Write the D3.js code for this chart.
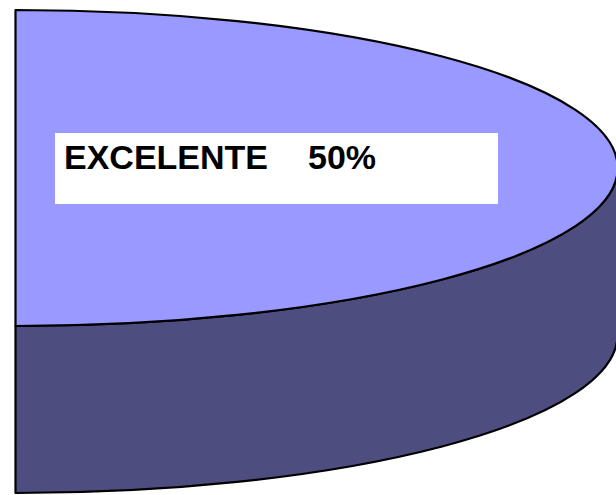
<!DOCTYPE html>
<html>
<head>
<meta charset="utf-8">
<script src="https://cdn.jsdelivr.net/npm/d3@7"></script>
<style>
html,body{margin:0;padding:0;background:#fff;overflow:hidden;}
svg{display:block;}
</style>
</head>
<body>
<svg id="chart" width="616" height="495"></svg>
<script>
const categories = ["EXCELENTE"];
const values = [50];
const percentLabels = ["50%"];
const total = 100;

const svg = d3.select("#chart");
const cx = 15.5, cy = 168, rx = 602, ry = 158, depth = 167;

// pie layout: the slice covers 50% of the full circle
const pie = d3.pie().sort(null).value(d => d).startAngle(0)
  .endAngle(2 * Math.PI * d3.sum(values) / total);
const arcs = pie(values);

const px = (a, dy = 0) => [cx + rx * Math.sin(a), cy + dy - ry * Math.cos(a)];

arcs.forEach((a, i) => {
  const s = a.startAngle, e = a.endAngle;
  // side (front-facing part: angles between PI/2 and 3PI/2)
  const ss = Math.max(s, Math.PI / 2), se = Math.min(e, 3 * Math.PI / 2);
  if (se > ss) {
    const p1 = px(ss), p2 = px(se), p3 = px(se, depth), p4 = px(ss, depth);
    const large = (se - ss) > Math.PI ? 1 : 0;
    const d = `M${p1}A${rx},${ry} 0 ${large} 1 ${p2}L${p3}A${rx},${ry} 0 ${large} 0 ${p4}Z`;
    svg.append("path").attr("d", d)
      .attr("fill", "#4d4d80").attr("stroke", "#000").attr("stroke-width", 2.2)
      .attr("stroke-linejoin", "round");
  }
  // top face
  const t1 = px(s), t2 = px(e);
  const largeT = (e - s) > Math.PI ? 1 : 0;
  svg.append("path")
    .attr("d", `M${cx},${cy}L${t1}A${rx},${ry} 0 ${largeT} 1 ${t2}Z`)
    .attr("fill", "#9999ff").attr("stroke", "#000").attr("stroke-width", 2.2)
    .attr("stroke-linejoin", "round");

  // label box
  svg.append("rect").attr("x", 55).attr("y", 133).attr("width", 443).attr("height", 71)
    .attr("fill", "#fff");
  const t = svg.append("text")
    .attr("font-family", "Liberation Sans, Arial, sans-serif")
    .attr("font-weight", "bold").attr("font-size", 34).attr("fill", "#000")
    .attr("y", 169);
  t.append("tspan").attr("x", 64).text(categories[i]);
  t.append("tspan").attr("x", 308).text(percentLabels[i]);
});
</script>
</body>
</html>
